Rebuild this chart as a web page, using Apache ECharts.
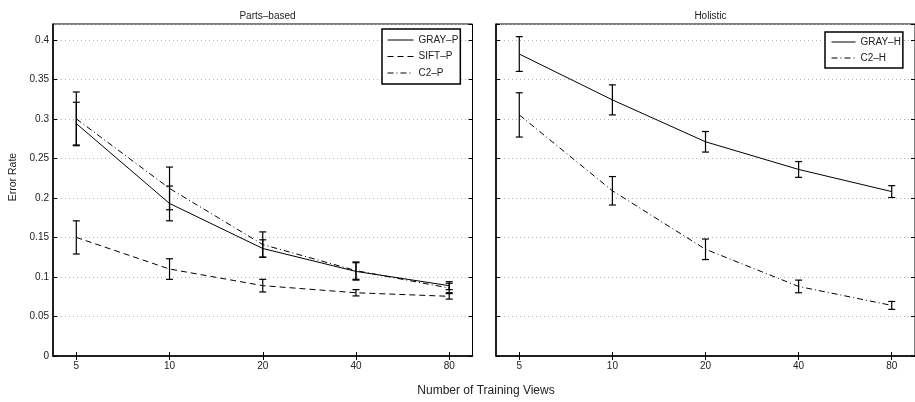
<!DOCTYPE html>
<html>
<head>
<meta charset="utf-8">
<script src="https://cdn.jsdelivr.net/npm/echarts@6/dist/echarts.min.js"></script>
<style>
  html, body { margin: 0; padding: 0; background: #fff; }
  #chart { width: 915px; height: 402px; }
</style>
</head>
<body>
<div id="chart"></div>
<script>
// 横轴刻度（训练视图数）
const xTicks = ['5', '10', '20', '40', '80'];
const xPos = [1, 2, 3, 4, 5];

// Parts-based
const grayP = [0.294, 0.193, 0.136, 0.107, 0.089];
const grayPErr = [0.027, 0.022, 0.011, 0.011, 0.005];
const siftP = [0.150, 0.110, 0.089, 0.080, 0.0755];
const siftPErr = [0.021, 0.013, 0.008, 0.004, 0.0035];
const c2P = [0.300, 0.212, 0.141, 0.108, 0.086];
const c2PErr = [0.034, 0.027, 0.016, 0.011, 0.006];

// Holistic
const grayH = [0.382, 0.324, 0.271, 0.236, 0.208];
const grayHErr = [0.022, 0.019, 0.013, 0.010, 0.0075];
const c2H = [0.305, 0.209, 0.135, 0.088, 0.064];
const c2HErr = [0.028, 0.018, 0.013, 0.008, 0.005];

const yTickStep = 0.05;
const yMax = 0.42;

const font = 'Liberation Sans, Arial, Helvetica, sans-serif';
const textColor = '#222';

function toPoints(vals) {
  return vals.map((v, i) => [xPos[i], v]);
}
function toErr(vals, errs) {
  return vals.map((v, i) => [xPos[i], v - errs[i], v + errs[i]]);
}

// 误差棒
function errRender(params, api) {
  const x = api.value(0);
  const lo = api.coord([x, api.value(1)]);
  const hi = api.coord([x, api.value(2)]);
  const w = 3.5;
  const style = { stroke: '#000', lineWidth: 1.2 };
  return {
    type: 'group',
    children: [
      { type: 'line', shape: { x1: lo[0], y1: lo[1], x2: hi[0], y2: hi[1] }, style },
      { type: 'line', shape: { x1: lo[0] - w, y1: lo[1], x2: lo[0] + w, y2: lo[1] }, style },
      { type: 'line', shape: { x1: hi[0] - w, y1: hi[1], x2: hi[0] + w, y2: hi[1] }, style }
    ]
  };
}

function xAxisDef(gridIndex, top) {
  return {
    type: 'value',
    gridIndex: gridIndex,
    position: top ? 'top' : 'bottom',
    min: 0.75,
    max: 5.25,
    axisLine: { show: !top, lineStyle: { color: '#000', width: 1.5 } },
    axisTick: { show: true, inside: true, length: 4, customValues: xPos, lineStyle: { color: '#000', width: 1 } },
    axisLabel: {
      show: !top,
      customValues: xPos,
      margin: 5,
      fontSize: 10,
      fontFamily: font,
      color: textColor,
      formatter: v => xTicks[Math.round(v) - 1]
    },
    splitLine: { show: false }
  };
}

function yAxisDef(gridIndex, right, labels) {
  return {
    type: 'value',
    gridIndex: gridIndex,
    position: right ? 'right' : 'left',
    min: 0,
    max: yMax,
    interval: yTickStep,
    axisLine: { show: !right, lineStyle: { color: '#000', width: 1.5 } },
    axisTick: { show: true, inside: true, length: 4, lineStyle: { color: '#000', width: 1 } },
    axisLabel: {
      show: labels,
      showMaxLabel: false,
      margin: 4,
      fontSize: 10,
      fontFamily: font,
      color: textColor
    },
    splitLine: {
      show: !right,
      lineStyle: { color: '#b4b4b4', width: 1, type: [1, 3] }
    }
  };
}

const dashed = [6, 4];
const dashDot = [6, 3, 1, 3];

function lineSeries(name, vals, xi, dash) {
  return {
    name: name,
    type: 'line',
    xAxisIndex: xi,
    yAxisIndex: xi,
    data: toPoints(vals),
    symbol: 'none',
    lineStyle: { color: '#000', width: 1, type: dash },
    itemStyle: { color: '#000' },
    z: 3
  };
}
function errSeries(vals, errs, xi) {
  return {
    type: 'custom',
    xAxisIndex: xi,
    yAxisIndex: xi,
    renderItem: errRender,
    encode: { x: 0, y: [1, 2] },
    data: toErr(vals, errs),
    z: 4
  };
}

const legendBase = {
  orient: 'vertical',
  itemHeight: 10,
  borderColor: '#000',
  borderWidth: 1.5,
  backgroundColor: '#fff',
  selectedMode: false,
  itemStyle: { opacity: 0 },
  lineStyle: { width: 1 },
  textStyle: { fontSize: 10, fontFamily: font, color: textColor }
};

const option = {
  animation: false,
  backgroundColor: '#fff',
  title: [
    { text: 'Parts–based', left: 262.5, top: 6, textAlign: 'center',
      textStyle: { fontSize: 10, fontWeight: 'normal', fontFamily: font, color: textColor } },
    { text: 'Holistic', left: 705.5, top: 6, textAlign: 'center',
      textStyle: { fontSize: 10, fontWeight: 'normal', fontFamily: font, color: textColor } }
  ],
  grid: [
    { left: 53, top: 24, width: 419.5, height: 332, show: true, borderColor: '#000', borderWidth: 1 },
    { left: 496, top: 24, width: 419, height: 332, show: true, borderColor: '#000', borderWidth: 1 }
  ],
  legend: [
    Object.assign({}, legendBase, {
      data: ['GRAY–P', 'SIFT–P', 'C2–P'],
      left: 382, top: 29,
      itemWidth: 26, itemGap: 6.5,
      padding: [6, 2, 6, 5]
    }),
    Object.assign({}, legendBase, {
      data: ['GRAY–H', 'C2–H'],
      left: 825, top: 32,
      itemWidth: 24, itemGap: 6,
      padding: [5, 2, 5, 6]
    })
  ],
  xAxis: [xAxisDef(0, false), xAxisDef(0, true), xAxisDef(1, false), xAxisDef(1, true)],
  yAxis: [yAxisDef(0, false, true), yAxisDef(0, true, false), yAxisDef(1, false, false), yAxisDef(1, true, false)],
  graphic: [
    {
      type: 'text', x: 13, y: 177, rotation: Math.PI / 2,
      style: { text: 'Error Rate', fontSize: 10.5, fontFamily: font, fill: textColor, align: 'center', verticalAlign: 'middle' }
    },
    {
      type: 'text', x: 486, y: 391,
      style: { text: 'Number of Training Views', fontSize: 12, fontFamily: font, fill: textColor, align: 'center', verticalAlign: 'middle' }
    }
  ],
  series: [
    lineSeries('GRAY–P', grayP, 0, 'solid'),
    lineSeries('SIFT–P', siftP, 0, dashed),
    lineSeries('C2–P', c2P, 0, dashDot),
    errSeries(grayP, grayPErr, 0),
    errSeries(siftP, siftPErr, 0),
    errSeries(c2P, c2PErr, 0),
    lineSeries('GRAY–H', grayH, 2, 'solid'),
    lineSeries('C2–H', c2H, 2, dashDot),
    errSeries(grayH, grayHErr, 2),
    errSeries(c2H, c2HErr, 2)
  ]
};

const myChart = echarts.init(document.getElementById('chart'));
myChart.setOption(option);
window.addEventListener('resize', () => {
  myChart.resize();
});
</script>
</body>
</html>
